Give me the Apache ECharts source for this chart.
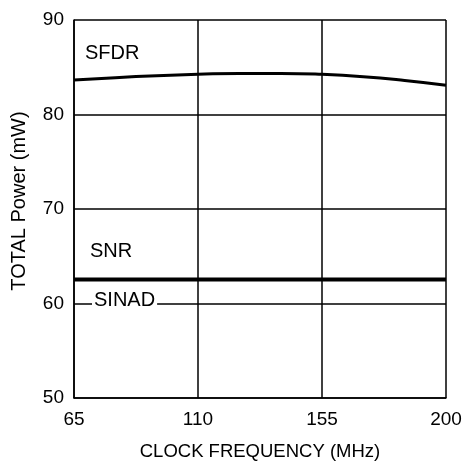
<!DOCTYPE html>
<html>
<head>
<meta charset="utf-8">
<script src="https://cdn.jsdelivr.net/npm/echarts@6/dist/echarts.min.js"></script>
<style>html,body{margin:0;padding:0;background:#fff}#c{width:468px;height:462px}</style>
</head>
<body>
<div id="c"></div>
<script>
var freqs = [65, 80, 95, 110, 125, 140, 155, 170, 185, 200];
var sfdr  = [83.65, 83.9, 84.1, 84.25, 84.35, 84.35, 84.25, 84.0, 83.6, 83.1];
var snr   = [62.6, 62.6, 62.6, 62.6, 62.6, 62.6, 62.6, 62.6, 62.6, 62.6];
var sinad = [62.5, 62.5, 62.5, 62.5, 62.5, 62.5, 62.5, 62.5, 62.5, 62.5];
var xTicks = [65, 110, 155, 200];
var yTicks = [50, 60, 70, 80, 90];
var seriesNames = ['SFDR', 'SNR', 'SINAD'];

function pairs(ys){ return freqs.map(function(f,i){ return [f, ys[i]]; }); }
var font = 'Arial, "Liberation Sans", sans-serif';
var chart = echarts.init(document.getElementById('c'));
chart.setOption({
  animation: false,
  backgroundColor: '#fff',
  grid: { left: 74, right: 22, top: 20, bottom: 64, outerBoundsMode: 'none', containLabel: false },
  xAxis: {
    type: 'value', min: 65, max: 200,
    name: 'CLOCK FREQUENCY (MHz)', nameLocation: 'middle', nameGap: 44,
    nameTextStyle: { fontFamily: font, fontSize: 18.5, color: '#000' },
    axisLine: { lineStyle: { color: '#000', width: 1.5 } },
    axisTick: { show: false, customValues: xTicks },
    axisLabel: { customValues: xTicks, fontFamily: font, fontSize: 19, color: '#000', margin: 12 },
    splitLine: { show: true, lineStyle: { color: '#000', width: 1.5 } }
  },
  yAxis: {
    type: 'value', min: 50, max: 90, interval: 10,
    name: 'TOTAL Power (mW)', nameLocation: 'middle', nameGap: 45,
    nameTextStyle: { fontFamily: font, fontSize: 20, color: '#000', padding: [0, 0, 0, 16] },
    axisLine: { show: true, lineStyle: { color: '#000', width: 1.5 } },
    axisTick: { show: false },
    axisLabel: { fontFamily: font, fontSize: 19, color: '#000', margin: 10 },
    splitLine: { show: true, lineStyle: { color: '#000', width: 1.5 } }
  },
  series: [
    { name: seriesNames[0], type: 'line', data: pairs(sfdr), smooth: true, symbol: 'none', lineStyle: { color: '#000', width: 3 }, z: 3 },
    { name: seriesNames[2], type: 'line', data: pairs(sinad), symbol: 'none', lineStyle: { color: '#000', width: 3 }, z: 3 },
    { name: seriesNames[1], type: 'line', data: pairs(snr), symbol: 'none', lineStyle: { color: '#000', width: 3 }, z: 3 }
  ],
  graphic: [
    { type: 'text', left: 85, top: 43, z: 10, style: { text: seriesNames[0], font: '20px ' + font, fill: '#000' } },
    { type: 'text', left: 90, top: 241, z: 10, style: { text: seriesNames[1], font: '20px ' + font, fill: '#000' } },
    { type: 'text', left: 92, top: 290, z: 10, style: { text: seriesNames[2], font: '20px ' + font, fill: '#000', backgroundColor: '#fff', padding: [0, 2, 0, 2] } }
  ]
});
</script>
</body>
</html>
